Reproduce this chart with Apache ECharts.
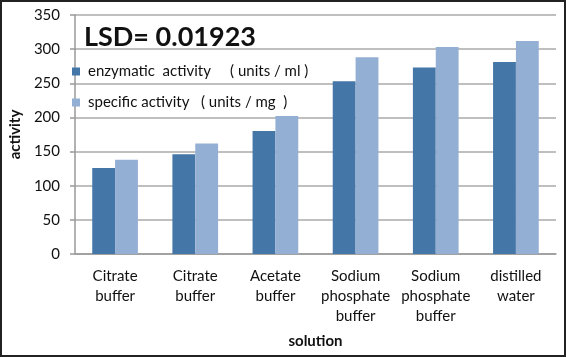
<!DOCTYPE html>
<html><head><meta charset="utf-8">
<script src="https://cdn.jsdelivr.net/npm/echarts@6/dist/echarts.min.js"></script>
<style>html,body{margin:0;padding:0;background:#fff}#c{width:566px;height:357px}</style>
</head><body><div id="c"></div>
<script>
const categories = ['Citrate\nbuffer', 'Citrate\nbuffer', 'Acetate\nbuffer', 'Sodium\nphosphate\nbuffer', 'Sodium\nphosphate\nbuffer', 'distilled\nwater'];
const enzymatic = [126, 146, 180, 253, 273, 281];
const specific = [138, 162, 202, 288, 303, 312];
const yTicks = [0, 50, 100, 150, 200, 250, 300, 350];
const seriesNames = ['enzymatic', 'specific'];
const lsdText = 'LSD= 0.01923';

const FONT = 'Lato';
const chart = echarts.init(document.getElementById('c'), null, {renderer: 'canvas'});
chart.setOption({
  animation: false,
  backgroundColor: '#fff',
  textStyle: {fontFamily: FONT},
  graphic: [{
    type: 'rect', shape: {x: 1, y: 1, width: 564, height: 355},
    style: {fill: 'none', stroke: '#222', lineWidth: 2}, z: 100
  }],
  title: {
    text: lsdText, left: 84, top: 24, padding: 0,
    textStyle: {fontFamily: FONT, fontSize: 27, fontWeight: 'bold', color: '#111'}
  },
  legend: {
    orient: 'vertical', left: 72, top: 63, padding: 0,
    itemWidth: 8, itemHeight: 8, itemGap: 14, icon: 'rect',
    data: seriesNames,
    formatter: function (n) {
      return n === 'enzymatic'
        ? 'enzymatic  activity     ( units / ml )'
        : 'specific activity   ( units / mg  )';
    },
    textStyle: {fontFamily: FONT, fontSize: 15, color: '#111', lineHeight: 17, padding: [0, 0, 0, 3]}
  },
  grid: {left: 67, right: 10, top: 15, bottom: 103, containLabel: false},
  xAxis: {
    type: 'category', data: categories,
    name: 'solution', nameLocation: 'middle', nameGap: 80,
    nameTextStyle: {fontFamily: FONT, fontSize: 15, fontWeight: 'bold', color: '#111'},
    axisLine: {lineStyle: {color: '#999', width: 1.5}},
    axisTick: {show: false},
    axisLabel: {fontFamily: FONT, fontSize: 15, color: '#111', lineHeight: 20, margin: 12, interval: 0}
  },
  yAxis: {
    type: 'value', min: 0, max: 350, interval: 50,
    name: 'activity', nameLocation: 'middle', nameGap: 51, nameRotate: 90,
    nameTextStyle: {fontFamily: FONT, fontSize: 15, fontWeight: 'bold', color: '#111'},
    axisLine: {show: true, lineStyle: {color: '#999', width: 1.5}},
    axisTick: {show: true, length: 5, lineStyle: {color: '#999', width: 1.5}},
    axisLabel: {fontFamily: FONT, fontSize: 15, color: '#111', margin: 15,
      formatter: function (v) { return yTicks.indexOf(v) >= 0 ? String(v) : ''; }},
    splitLine: {lineStyle: {color: '#aaa', width: 1.5}}
  },
  series: [
    {name: 'enzymatic', type: 'bar', data: enzymatic, barGap: '0%', barCategoryGap: '43%',
     itemStyle: {color: '#4576a8'}},
    {name: 'specific', type: 'bar', data: specific, barGap: '0%', barCategoryGap: '43%',
     itemStyle: {color: '#94afd4'}}
  ]
});
</script></body></html>
